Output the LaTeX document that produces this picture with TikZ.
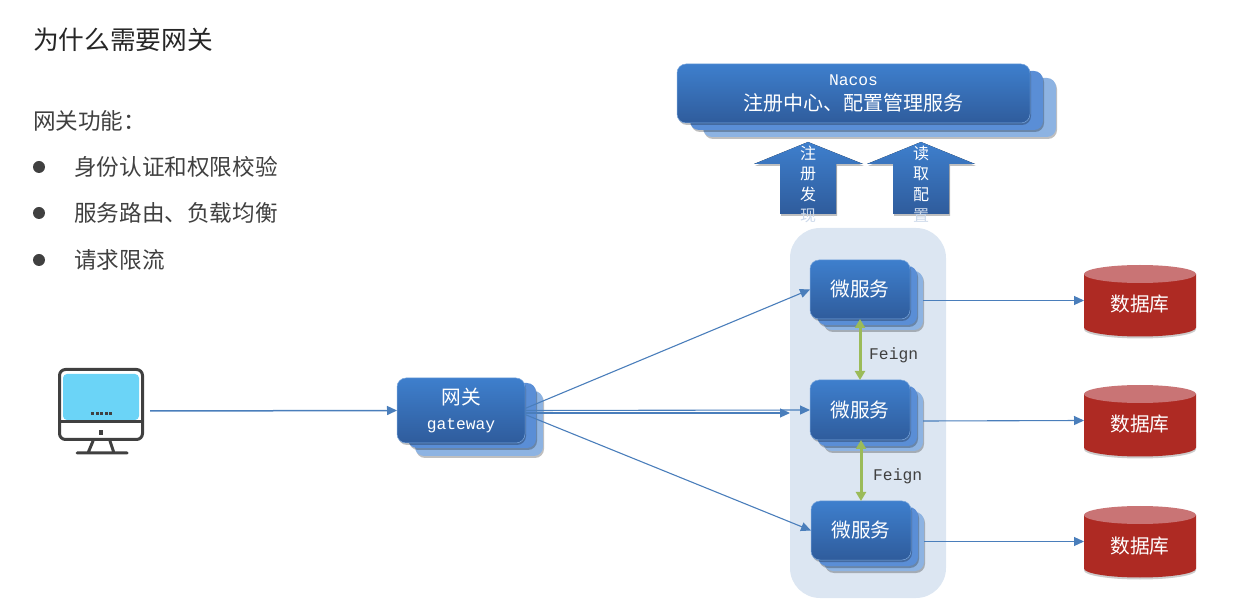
\documentclass[tikz,border=0pt]{standalone}
\usepackage{fontspec}
\setmainfont{Noto Sans CJK SC}
\setmonofont{Liberation Mono}
\usetikzlibrary{arrows.meta,calc,shadows}
\definecolor{txt}{HTML}{404040}
\definecolor{panel}{HTML}{DCE6F2}
\definecolor{layerc}{HTML}{8DB3E2}
\definecolor{layerb}{HTML}{5A8ED6}
\definecolor{fronttop}{HTML}{3E7FCD}
\definecolor{frontbot}{HTML}{2F5C9C}
\definecolor{link}{HTML}{4A7EBB}
\definecolor{feignc}{HTML}{9BBB59}
\definecolor{dbred}{HTML}{AE2A23}
\definecolor{dbtop}{HTML}{C97475}
\definecolor{screen}{HTML}{6BD4F7}
\definecolor{paletext}{HTML}{CBD8EA}
\newcommand{\fsz}[1]{\fontsize{#1}{#1}\selectfont}
\newcommand{\stackskip}{23}
\tikzset{
  softshadow/.style={general shadow={shadow xshift=1pt,shadow yshift=-2pt,fill=black,opacity=.25}},
  layer/.style={rounded corners=9pt,inner sep=0pt,outer sep=0pt,softshadow},
  frontbox/.style={layer,draw=fronttop!70!white,line width=.5pt,top color=fronttop,bottom color=frontbot,text=white,align=center,font={\fontsize{19.7}{\stackskip}\selectfont}},
  heading/.style={anchor=west,inner sep=0pt,text=black!85,font=\fsz{25.7}},
  bodytext/.style={anchor=west,inner sep=0pt,text=txt,font=\fsz{22.6}},
  bulletdot/.style={circle,fill=txt,minimum size=12pt,inner sep=0pt},
  flow/.style={draw=link,line width=1.1pt,-{Triangle[length=10pt,width=9pt]}},
  feignlink/.style={draw=feignc,line width=3pt,{Triangle[length=9pt,width=10pt]}-{Triangle[length=9pt,width=10pt]}},
  feigntext/.style={anchor=west,inner sep=0pt,text=txt,font=\ttfamily\fsz{16.3}},
  bigarrow/.style={top color=fronttop,bottom color=frontbot,softshadow},
  arrowtext/.style={inner sep=0pt,text=white,align=center,font={\fontsize{16}{20.7}\selectfont}},
  dbtext/.style={inner sep=0pt,outer sep=0pt,text=white,font=\fsz{19.7},minimum width=112pt,minimum height=71pt},
  monitor/.style={draw=txt,line width=3pt,line cap=round,line join=round},
}
\newcommand{\stacktext}{}
\newcommand{\stackbox}[9]{%
  \node[layer,fill=layerc,minimum width=#4pt,minimum height=#5pt] (#1c) at (#2+#8,#3+#9) {};
  \node[layer,fill=layerb,minimum width=#4pt,minimum height=#5pt] (#1b) at (#2+#6,#3+#7) {};
  \node[frontbox,minimum width=#4pt,minimum height=#5pt] (#1) at (#2,#3) {\stacktext};
}
\newcommand{\dbcyl}[3]{%
  \fill[black,opacity=.2] (#2-56,#3+11.5) -- (#2-56,#3+29) arc[start angle=180,end angle=360,x radius=56pt,y radius=9pt] -- (#2+56,#3+11.5) -- cycle;
  \fill[dbred] (#2-56,#3-26.5) -- (#2-56,#3+27) arc[start angle=180,end angle=360,x radius=56pt,y radius=9pt] -- (#2+56,#3-26.5) -- cycle;
  \fill[dbtop] (#2,#3-26.5) ellipse[x radius=56pt,y radius=9pt];
  \node[dbtext] (#1) at (#2,#3) {\raisebox{-11.5pt}[0pt][0pt]{数据库}};
}
\begin{document}
\begin{tikzpicture}[x=1pt,y=-1pt]
\useasboundingbox (0,0) rectangle (1243,601);

% text block
\node[heading] (title) at (33,40) {为什么需要网关};
\node[bodytext] (lead) at (33,121) {网关功能：};
\node[bulletdot] (b1) at (39,167) {};
\node[bulletdot] (b2) at (39,213) {};
\node[bulletdot] (b3) at (39,260) {};
\node[bodytext] (t1) at (74,167) {身份认证和权限校验};
\node[bodytext] (t2) at (74,213) {服务路由、负载均衡};
\node[bodytext] (t3) at (74,260) {请求限流};

% panel behind the services
\fill[panel,rounded corners=30pt] (790,228) rectangle (946,598);

% Nacos
\renewcommand{\stackskip}{25}
\renewcommand{\stacktext}{{\ttfamily\fsz{16.3}Nacos}\\{\fontsize{20}{25}\selectfont 注册中心、配置管理服务}}
\stackbox{nacos}{853.5}{93.5}{353}{59}{13}{7}{26}{14}

% big arrows
\fill[bigarrow] (808,142) -- (863,164) -- (836,164) -- (836,214) -- (780,214) -- (780,164) -- (754,164) -- cycle;
\fill[bigarrow] (921,142) -- (975,164) -- (949,164) -- (949,214) -- (893,214) -- (893,164) -- (867,164) -- cycle;
\node[arrowtext] (reg) at (808,184) {注\\册\\发\\\textcolor{paletext}{现}};
\node[arrowtext] (cfg) at (921,184) {读\\取\\配\\\textcolor{paletext}{置}};

% gateway
\renewcommand{\stackskip}{25}
\renewcommand{\stacktext}{网关\\{\ttfamily\fontsize{16.3}{25}\selectfont gateway}}
\stackbox{gw}{461}{410.5}{128}{65}{11}{5}{18}{13}

% services
\renewcommand{\stacktext}{微服务}
\stackbox{sa}{860}{289.5}{100}{59}{7}{6}{13}{11}
\stackbox{sb}{860}{410}{100}{60}{7}{6}{13}{11}
\stackbox{sc}{861}{530.5}{100}{59}{7}{6}{13}{11}

% databases
\dbcyl{da}{1140}{300.5}
\dbcyl{db}{1140}{420.5}
\dbcyl{dc}{1140}{541.5}

% monitor
\node[inner sep=0pt,minimum width=98pt,minimum height=86pt] (pc) at (101,411) {};
\fill[screen,rounded corners=4pt] (63,374) rectangle (139,420);
\draw[monitor,rounded corners=6pt] (59.5,369.5) rectangle (142.5,439.5);
\draw[monitor] (59.5,421.5) -- (142.5,421.5);
\fill[txt] (99,430) rectangle (103,435);
\foreach \dx in {91,95.5,100,104.5,109}{\fill[txt] (\dx,412) rectangle (\dx+3,415.5);}
\draw[monitor] (93,441) -- (88,453) (110,441) -- (114,453) (77,453) -- (127,453);

% connectors
\coordinate (midend) at (790,413);
\draw[flow,line width=1.5pt] (pc.east) -- (gw.west);
\draw[flow] ($(gw.east)+(0,-2)$) -- (sa.west);
\draw[flow] (gw.east) -- (sb.west);
\draw[flow] ($(gw.east)+(0,2.5)$) -- (midend);
\draw[flow] ($(gw.east)+(0,4)$) -- (sc.west);
\draw[flow] (sac.east) -- (da.west);
\draw[flow] (sbc.east) -- (db.west);
\draw[flow] (scc.east) -- (dc.west);
\draw[feignlink] (sa.south) -- (sb.north);
\draw[feignlink] (sb.south -| sc.south) -- (sc.north);
\node[feigntext] (fa) at (869,355) {Feign};
\node[feigntext] (fb) at (873,476) {Feign};
\end{tikzpicture}
\end{document}
